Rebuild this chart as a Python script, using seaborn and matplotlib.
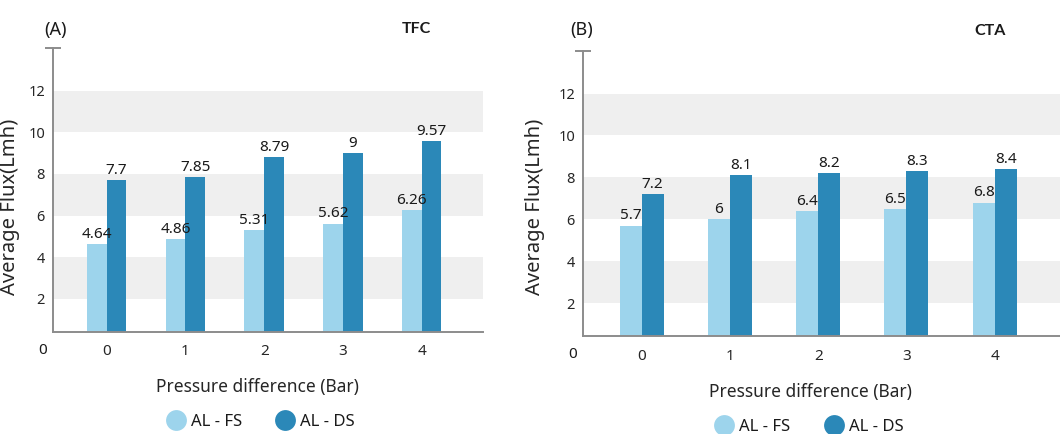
import matplotlib
matplotlib.use("Agg")
import matplotlib.pyplot as plt
from matplotlib.lines import Line2D
import pandas as pd
import seaborn as sns

# Flux measurements per applied pressure difference
pressure = ["0", "1", "2", "3", "4"]
tfc_fs = [4.64, 4.86, 5.31, 5.62, 6.26]
tfc_ds = [7.7, 7.85, 8.79, 9, 9.57]
cta_fs = [5.7, 6, 6.4, 6.5, 6.8]
cta_ds = [7.2, 8.1, 8.2, 8.3, 8.4]
series = ["AL - FS", "AL - DS"]
y_ticks = [2, 4, 6, 8, 10, 12]

colors = {"AL - FS": "#9dd4ec", "AL - DS": "#2b88b8"}
axis_grey = "#8c8c8c"
band_grey = "#efefef"

sns.set_theme(style="white")
plt.rcParams["font.family"] = ["Noto Sans", "DejaVu Sans"]
plt.rcParams["text.color"] = "#1a1a1a"

fig = plt.figure(figsize=(10.6, 4.34), dpi=100)


def long_frame(fs, ds):
    return pd.DataFrame({
        "Pressure": pressure * 2,
        "Flux": list(fs) + list(ds),
        "Side": [series[0]] * len(fs) + [series[1]] * len(ds),
    })


def draw_panel(ax, fs, ds, xlim, end_tick, tag, name, tag_xy, name_xy,
               ylab_xy, xlab_xy, leg_xy):
    df = long_frame(fs, ds)
    for lo, hi in [(2, 4), (6, 8), (10, 12)]:
        ax.axhspan(lo, hi, color=band_grey, zorder=0, lw=0)
    sns.barplot(data=df, x="Pressure", y="Flux", hue="Side", order=pressure,
                hue_order=series, palette=colors, width=0.5, gap=0,
                saturation=1, linewidth=0, legend=False, ax=ax, zorder=2)
    for cont, vals in zip(ax.containers, [fs, ds]):
        ax.bar_label(cont, labels=[f"{v:g}" for v in vals], padding=1.5,
                     fontsize=11, color="#1a1a1a")

    ax.set_xlim(*xlim)
    ax.set_ylim(0.43, 14.03)

    for side in ["top", "right"]:
        ax.spines[side].set_visible(False)
    for side in ["left", "bottom"]:
        ax.spines[side].set_color(axis_grey)
        ax.spines[side].set_linewidth(1.4)

    # category labels at group centres, tick marks at group edges
    ax.set_xticks(range(len(pressure)))
    ax.set_xticklabels(pressure)
    edges = [i + d for i in range(len(pressure)) for d in (-0.25, 0.25)]
    if end_tick:
        edges.append(xlim[1])
    ax.set_xticks(edges, minor=True)
    ax.tick_params(axis="x", which="major", length=0, pad=9, labelsize=11)
    ax.tick_params(axis="x", which="minor", direction="inout", length=9,
                   width=1.4, color=axis_grey)
    ax.set_yticks(y_ticks)
    ax.set_yticklabels([str(t) for t in y_ticks])
    ax.tick_params(axis="y", which="major", direction="inout", length=6,
                   width=1.2, color=axis_grey, pad=3, labelsize=10.5)

    # cap at the top of the value axis
    ax.plot([xlim[0]], [14.03], marker="_", markersize=12, mew=1.4,
            color=axis_grey, clip_on=False, zorder=5)
    # shared origin label
    ax.annotate("0", xy=(0, 0), xycoords="axes fraction", xytext=(-8, -13.5),
                textcoords="offset points", ha="center", va="center",
                fontsize=11)

    ax.set_xlabel("Pressure difference (Bar)", fontsize=12.5)
    ax.set_ylabel("Average Flux(Lmh)", fontsize=14.5)
    ax.xaxis.set_label_coords(*xlab_xy)
    ax.yaxis.set_label_coords(*ylab_xy)

    fig.text(*tag_xy, tag, ha="center", va="center", fontsize=13)
    fig.text(*name_xy, name, ha="center", va="center", fontsize=11.5,
             fontweight="bold", family=["Lato", "DejaVu Sans"])

    handles = [Line2D([], [], ls="", marker="o", markersize=15,
                      markerfacecolor=colors[s], markeredgewidth=0)
               for s in series]
    ax.legend(handles, series, loc="center", bbox_to_anchor=leg_xy,
              ncol=2, frameon=False, fontsize=12, handletextpad=0.3,
              columnspacing=2.0, handlelength=1.2)


ax_a = fig.add_axes([0.0503, 0.2357, 0.4054, 0.6530])
ax_b = fig.add_axes([0.5503, 0.2258, 0.4497, 0.6567])

draw_panel(ax_a, tfc_fs, tfc_ds, (-0.678, 4.78), True, "(A)", "TFC",
           (0.052, 0.931), (0.393, 0.933), (-0.0775, 0.44), (0.474, -0.163),
           (0.482, -0.319))
draw_panel(ax_b, cta_fs, cta_ds, (-0.66, 4.74), False, "(B)", "CTA",
           (0.549, 0.931), (0.934, 0.929), (-0.080, 0.453), (0.4756, -0.165),
           (0.473, -0.319))

fig.savefig("out.png", dpi=100)
